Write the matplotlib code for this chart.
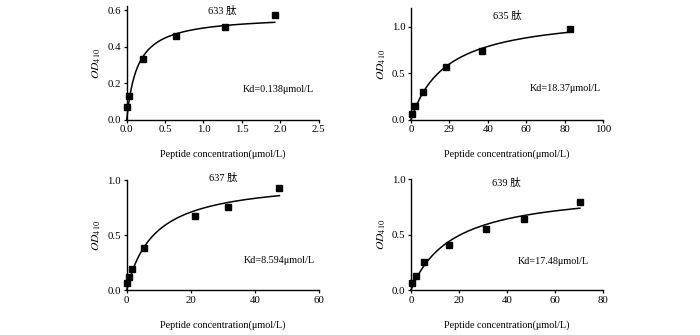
import numpy as np
import matplotlib
matplotlib.use("Agg")
import matplotlib.pyplot as plt

plt.rcParams['font.family'] = ['Liberation Serif', 'Noto Sans CJK SC']
plt.rcParams['mathtext.fontset'] = 'stix'

# peptide 633
x633 = [0.0, 0.03, 0.21, 0.64, 1.28, 1.93]
y633 = [0.073, 0.133, 0.33, 0.458, 0.509, 0.573]
kd633 = 0.138
bmax633 = 0.571

# peptide 635
x635 = [0.5, 2.2, 6.2, 18.3, 36.8, 82.5]
y635 = [0.065, 0.15, 0.30, 0.57, 0.74, 0.98]
kd635 = 18.37
bmax635 = 1.154

# peptide 637
x637 = [0.0, 0.7, 1.75, 5.3, 21.2, 31.7, 47.6]
y637 = [0.066, 0.115, 0.19, 0.385, 0.67, 0.755, 0.927]
kd637 = 8.594
bmax637 = 1.015

# peptide 639
x639 = [0.3, 2.0, 5.4, 15.8, 31.25, 47.0, 70.5]
y639 = [0.066, 0.123, 0.252, 0.408, 0.55, 0.64, 0.793]
kd639 = 17.48
bmax639 = 0.922

titles = ['633 肽', '635 肽', '637 肽', '639 肽']
kd_labels = ['Kd=0.138μmol/L', 'Kd=18.37μmol/L', 'Kd=8.594μmol/L', 'Kd=17.48μmol/L']

xticks633 = [0.0, 0.5, 1.0, 1.5, 2.0, 2.5]
xticklabels633 = ['0.0', '0.5', '1.0', '1.5', '2.0', '2.5']
yticks633 = [0.0, 0.2, 0.4, 0.6]
xticks635 = [0, 20, 40, 60, 80, 100]
xticklabels635 = ['0', '29', '40', '60', '80', '100']
xticks637 = [0, 20, 40, 60]
xticks639 = [0, 20, 40, 60, 80]
yticks_1 = [0.0, 0.5, 1.0]

fig = plt.figure(figsize=(7, 3.35), dpi=100)

panels = [
    # x, y, kd, bmax, rect, xlim, ylim, xticks, xticklabels, yticks, title pos, kd pos
    (x633, y633, kd633, bmax633, [0.181, 0.642, 0.274, 0.339], (0, 2.5), (0, 0.62),
     xticks633, xticklabels633, yticks633, 0.96, (0.79, 0.27)),
    (x635, y635, kd635, bmax635, [0.587, 0.642, 0.275, 0.333], (0, 100), (0, 1.2),
     xticks635, xticklabels635, yticks_1, 0.935, (0.80, 0.28)),
    (x637, y637, kd637, bmax637, [0.181, 0.134, 0.275, 0.328], (0, 60), (0, 1.0),
     xticks637, [str(t) for t in xticks637], yticks_1, 1.02, (0.79, 0.27)),
    (x639, y639, kd639, bmax639, [0.587, 0.134, 0.274, 0.331], (0, 80), (0, 1.0),
     xticks639, [str(t) for t in xticks639], yticks_1, 0.965, (0.74, 0.255)),
]

for i, (xs, ys, kd, bmax, rect, xl, yl, xt, xtl, yt, ty, kpos) in enumerate(panels):
    ax = fig.add_axes(rect)
    # one-site binding fit curve
    xf = np.linspace(0, max(xs), 200)
    ax.plot(xf, bmax * xf / (kd + xf), color='black', lw=1.1, clip_on=False)
    ax.plot(xs, ys, 's', color='black', ms=4.2, clip_on=False, zorder=3)
    ax.set_xlim(*xl)
    ax.set_ylim(*yl)
    ax.set_xticks(xt)
    ax.set_xticklabels(xtl)
    ax.set_yticks(yt)
    ax.set_yticklabels(['%.1f' % v for v in yt])
    for s in ['top', 'right']:
        ax.spines[s].set_visible(False)
    for s in ['left', 'bottom']:
        ax.spines[s].set_linewidth(1.0)
    ax.tick_params(direction='out', length=2.5, width=0.9, pad=1.5, labelsize=7.8)
    ax.set_xlabel('Peptide concentration(μmol/L)', fontsize=7.3, labelpad=11)
    ax.set_ylabel(r'$\mathit{OD}_{410}$', fontsize=8.5, labelpad=3)
    ax.text(0.5, ty, titles[i], transform=ax.transAxes, ha='center', va='center', fontsize=7.5)
    ax.text(kpos[0], kpos[1], kd_labels[i], transform=ax.transAxes, ha='center', va='center',
            fontsize=7.3)

fig.savefig('out.png', dpi=100)
